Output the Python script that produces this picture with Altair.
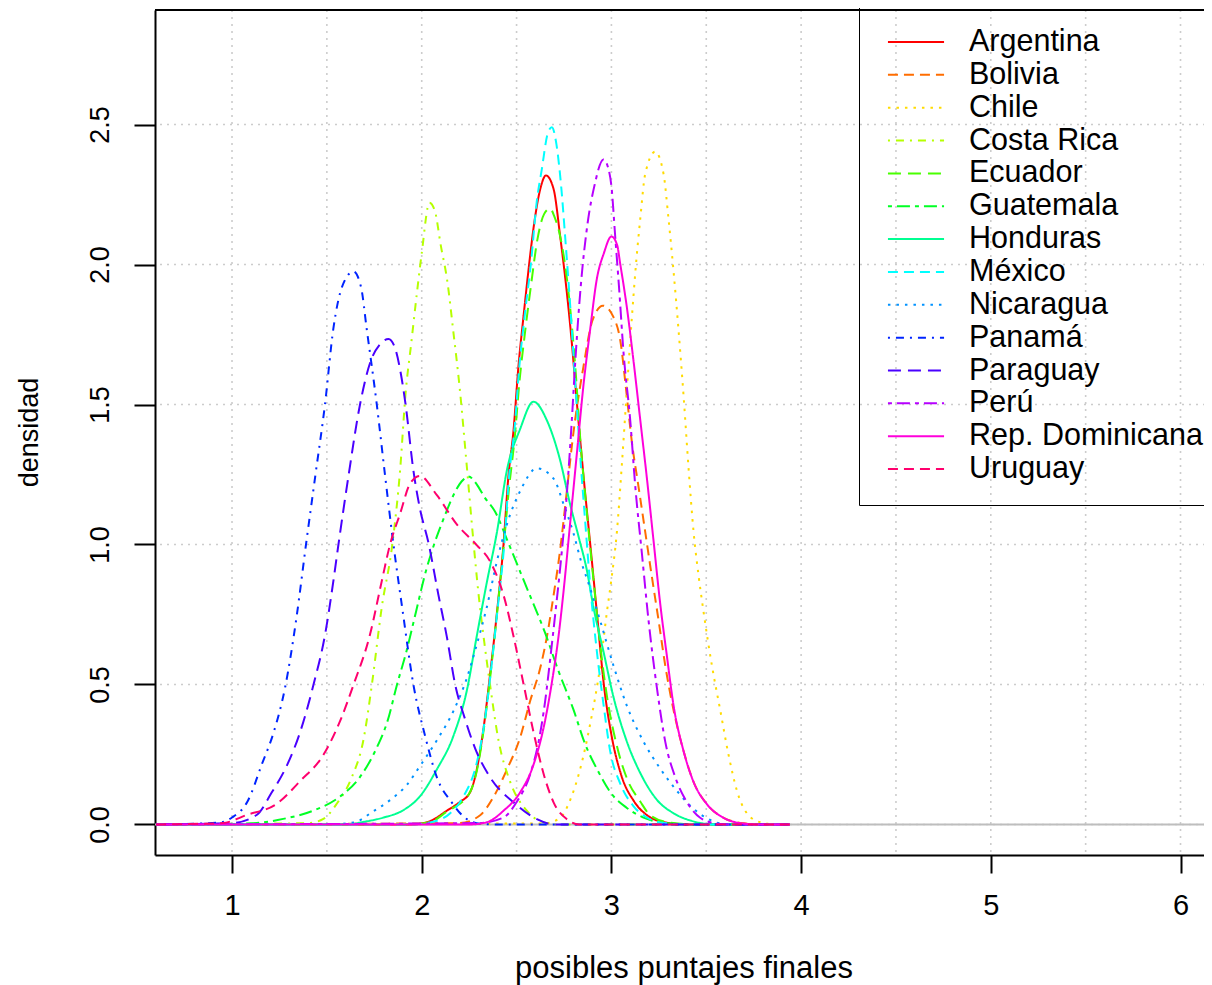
import altair as alt
import pandas as pd

countries = ["Argentina", "Bolivia", "Chile", "Costa Rica", "Ecuador", "Guatemala",
             "Honduras", "México", "Nicaragua", "Panamá", "Paraguay", "Perú",
             "Rep. Dominicana", "Uruguay"]
line_colors = ["#FF0000", "#FF6D00", "#FFDB00", "#B6FF00", "#49FF00", "#00FF24",
               "#00FF92", "#00FFFF", "#0092FF", "#0024FF", "#4900FF", "#B600FF",
               "#FF00DB", "#FF006D"]
line_dashes = [[1, 0], [10, 6], [2.5, 6], [2, 6, 8, 6], [13, 7], [4, 5, 13, 5],
               [1, 0], [10, 6], [2.5, 6], [2, 6, 8, 6], [13, 7], [4, 5, 13, 5],
               [1, 0], [10, 6]]

# density curves: (score, density)
argentina = [(0.6, 0), (1.95, 0), (2.044, 0.012), (2.132, 0.049), (2.2, 0.08), (2.255, 0.115),
             (2.29, 0.196), (2.326, 0.344), (2.361, 0.54), (2.396, 0.753), (2.431, 0.999),
             (2.457, 1.244), (2.484, 1.408), (2.51, 1.637), (2.537, 1.817), (2.563, 1.981),
             (2.589, 2.128), (2.624, 2.267), (2.655, 2.318), (2.695, 2.27), (2.73, 2.10),
             (2.765, 1.90), (2.79, 1.73), (2.82, 1.49), (2.855, 1.23), (2.89, 0.99),
             (2.925, 0.745), (2.96, 0.50), (3.0, 0.32), (3.05, 0.18), (3.12, 0.082),
             (3.19, 0.032), (3.28, 0.008), (3.4, 0), (3.94, 0)]
bolivia = [(0.6, 0), (2.2, 0.005), (2.308, 0.033), (2.378, 0.098), (2.449, 0.196), (2.519, 0.311),
           (2.572, 0.442), (2.624, 0.557), (2.66, 0.671), (2.695, 0.818), (2.73, 0.982),
           (2.76, 1.16), (2.80, 1.40), (2.853, 1.637), (2.90, 1.80), (2.955, 1.853),
           (3.011, 1.812), (3.046, 1.732), (3.082, 1.525), (3.108, 1.365), (3.143, 1.206),
           (3.178, 1.046), (3.213, 0.886), (3.249, 0.727), (3.284, 0.567), (3.328, 0.407),
           (3.38, 0.263), (3.433, 0.152), (3.504, 0.072), (3.591, 0.024), (3.7, 0.004),
           (3.8, 0), (3.94, 0)]
chile = [(0.6, 0), (2.65, 0.004), (2.73, 0.024), (2.783, 0.088), (2.836, 0.2), (2.888, 0.359),
         (2.941, 0.567), (2.976, 0.758), (3.002, 0.886), (3.029, 1.046), (3.055, 1.285),
         (3.082, 1.557), (3.108, 1.812), (3.126, 1.972), (3.152, 2.163), (3.178, 2.323),
         (3.231, 2.403), (3.275, 2.323), (3.301, 2.163), (3.328, 1.972), (3.354, 1.764),
         (3.381, 1.525), (3.407, 1.269), (3.433, 1.046), (3.46, 0.886), (3.486, 0.758),
         (3.53, 0.567), (3.574, 0.407), (3.618, 0.247), (3.662, 0.12), (3.714, 0.04),
         (3.785, 0.008), (3.87, 0), (3.94, 0)]
costa_rica = [(0.6, 0), (1.40, 0.005), (1.482, 0.02), (1.552, 0.074), (1.631, 0.168), (1.693, 0.303),
              (1.737, 0.498), (1.789, 0.774), (1.845, 1.0), (1.886, 1.265), (1.915, 1.54),
              (1.945, 1.72), (1.975, 1.90), (2.0, 2.04), (2.041, 2.221), (2.07, 2.19),
              (2.10, 2.07), (2.135, 1.94), (2.165, 1.77), (2.20, 1.56), (2.235, 1.30),
              (2.27, 1.03), (2.30, 0.82), (2.33, 0.65), (2.36, 0.50), (2.405, 0.30),
              (2.466, 0.153), (2.554, 0.049), (2.624, 0.012), (2.72, 0), (3.94, 0)]
ecuador = [(0.6, 0), (1.95, 0), (2.05, 0.01), (2.13, 0.045), (2.25, 0.11), (2.29, 0.19),
           (2.325, 0.33), (2.36, 0.52), (2.395, 0.74), (2.43, 0.98), (2.46, 1.2), (2.49, 1.38),
           (2.515, 1.58), (2.545, 1.76), (2.575, 1.92), (2.61, 2.09), (2.645, 2.18),
           (2.677, 2.20), (2.70, 2.17), (2.73, 2.10), (2.774, 1.90), (2.809, 1.64),
           (2.836, 1.375), (2.871, 1.11), (2.906, 0.87), (2.941, 0.64), (2.976, 0.46),
           (3.029, 0.28), (3.082, 0.164), (3.152, 0.082), (3.205, 0.033), (3.3, 0.008),
           (3.45, 0), (3.94, 0)]
guatemala = [(0.6, 0), (1.1, 0.004), (1.27, 0.02), (1.43, 0.05), (1.57, 0.10), (1.675, 0.17),
             (1.76, 0.27), (1.82, 0.37), (1.87, 0.50), (1.92, 0.62), (1.97, 0.76), (2.02, 0.90),
             (2.065, 1.0), (2.12, 1.10), (2.167, 1.176), (2.21, 1.225), (2.247, 1.243),
             (2.29, 1.215), (2.33, 1.17), (2.387, 1.117), (2.46, 1.0), (2.56, 0.835),
             (2.65, 0.685), (2.72, 0.55), (2.80, 0.41), (2.86, 0.29), (2.93, 0.19),
             (3.0, 0.11), (3.08, 0.06), (3.18, 0.022), (3.3, 0.004), (3.45, 0), (3.94, 0)]
honduras = [(0.6, 0), (1.6, 0), (1.70, 0.01), (1.80, 0.025), (1.90, 0.05), (1.99, 0.10),
            (2.08, 0.197), (2.167, 0.316), (2.238, 0.479), (2.29, 0.672), (2.343, 0.864),
            (2.396, 1.042), (2.449, 1.265), (2.519, 1.413), (2.589, 1.51), (2.66, 1.443),
            (2.73, 1.30), (2.78, 1.15), (2.83, 1.02), (2.87, 0.91), (2.906, 0.774),
            (2.959, 0.615), (3.011, 0.455), (3.082, 0.295), (3.152, 0.184), (3.24, 0.088),
            (3.328, 0.04), (3.433, 0.011), (3.55, 0), (3.94, 0)]
mexico = [(0.6, 0), (1.95, 0), (2.05, 0.008), (2.15, 0.04), (2.22, 0.10), (2.29, 0.22),
          (2.33, 0.36), (2.365, 0.55), (2.40, 0.77), (2.435, 1.0), (2.46, 1.24), (2.49, 1.42),
          (2.515, 1.64), (2.545, 1.83), (2.575, 2.0), (2.607, 2.228), (2.633, 2.34),
          (2.665, 2.47), (2.686, 2.49), (2.71, 2.43), (2.735, 2.28), (2.756, 2.10),
          (2.783, 1.85), (2.81, 1.57), (2.836, 1.31), (2.862, 1.08), (2.89, 0.84),
          (2.923, 0.62), (2.958, 0.43), (2.994, 0.26), (3.046, 0.147), (3.117, 0.065),
          (3.187, 0.025), (3.28, 0.005), (3.4, 0), (3.94, 0)]
nicaragua = [(0.6, 0), (1.55, 0.002), (1.64, 0.007), (1.745, 0.047), (1.833, 0.087), (1.921, 0.141),
             (1.992, 0.21), (2.08, 0.301), (2.167, 0.405), (2.238, 0.523), (2.29, 0.642),
             (2.343, 0.776), (2.396, 0.939), (2.449, 1.072), (2.519, 1.191), (2.607, 1.272),
             (2.695, 1.235), (2.75, 1.14), (2.80, 1.04), (2.84, 0.94), (2.88, 0.86),
             (2.941, 0.727), (3.011, 0.567), (3.082, 0.423), (3.17, 0.295), (3.257, 0.20),
             (3.345, 0.12), (3.433, 0.056), (3.521, 0.016), (3.62, 0), (3.94, 0)]
panama = [(0.6, 0), (0.937, 0.007), (1.0, 0.025), (1.08, 0.08), (1.16, 0.22), (1.22, 0.33),
          (1.28, 0.49), (1.34, 0.74), (1.39, 1.0), (1.44, 1.25), (1.49, 1.50), (1.534, 1.77),
          (1.58, 1.92), (1.64, 1.975), (1.68, 1.92), (1.71, 1.77), (1.763, 1.501),
          (1.807, 1.245), (1.851, 1.0), (1.90, 0.76), (1.956, 0.50), (2.018, 0.316),
          (2.08, 0.168), (2.158, 0.079), (2.238, 0.019), (2.31, 0.003), (2.4, 0), (3.94, 0)]
paraguay = [(0.6, 0), (1.0, 0.005), (1.13, 0.034), (1.209, 0.114), (1.288, 0.209), (1.359, 0.33),
            (1.429, 0.498), (1.491, 0.68), (1.534, 0.868), (1.561, 1.0), (1.614, 1.245),
            (1.675, 1.501), (1.728, 1.649), (1.78, 1.715), (1.825, 1.734), (1.86, 1.70),
            (1.89, 1.61), (1.915, 1.50), (1.956, 1.265), (1.99, 1.13), (2.036, 1.005),
            (2.088, 0.82), (2.132, 0.672), (2.176, 0.501), (2.229, 0.375), (2.282, 0.271),
            (2.361, 0.168), (2.484, 0.079), (2.607, 0.019), (2.70, 0), (3.94, 0)]
peru = [(0.6, 0), (2.3, 0.005), (2.431, 0.025), (2.502, 0.082), (2.572, 0.18), (2.616, 0.295),
        (2.651, 0.442), (2.677, 0.589), (2.704, 0.753), (2.73, 0.917), (2.765, 1.18),
        (2.79, 1.43), (2.812, 1.68), (2.838, 1.92), (2.875, 2.15), (2.91, 2.28),
        (2.958, 2.375), (2.985, 2.34), (3.0, 2.28), (3.02, 2.10), (3.04, 1.92),
        (3.064, 1.684), (3.099, 1.445), (3.126, 1.206), (3.161, 0.966), (3.196, 0.727),
        (3.24, 0.487), (3.284, 0.295), (3.337, 0.168), (3.398, 0.08), (3.468, 0.024),
        (3.56, 0.003), (3.65, 0), (3.94, 0)]
rep_dominicana = [(0.6, 0), (2.25, 0), (2.343, 0.008), (2.431, 0.049), (2.519, 0.115),
                  (2.589, 0.213), (2.642, 0.344), (2.686, 0.507), (2.721, 0.671), (2.748, 0.835),
                  (2.783, 1.08), (2.818, 1.326), (2.853, 1.571), (2.888, 1.768), (2.923, 1.948),
                  (2.96, 2.04), (3.0, 2.10), (3.03, 2.07), (3.046, 2.004), (3.082, 1.844),
                  (3.117, 1.653), (3.152, 1.445), (3.187, 1.237), (3.222, 1.014), (3.257, 0.79),
                  (3.293, 0.599), (3.328, 0.423), (3.38, 0.263), (3.433, 0.152), (3.504, 0.072),
                  (3.591, 0.024), (3.679, 0.005), (3.78, 0), (3.94, 0)]
uruguay = [(0.6, 0), (0.95, 0.005), (1.077, 0.034), (1.236, 0.074), (1.359, 0.155), (1.482, 0.249),
           (1.57, 0.37), (1.64, 0.498), (1.728, 0.68), (1.789, 0.868), (1.833, 1.0),
           (1.886, 1.11), (1.939, 1.218), (1.99, 1.245), (2.08, 1.176), (2.185, 1.072),
           (2.29, 0.998), (2.361, 0.939), (2.431, 0.82), (2.484, 0.672), (2.537, 0.501),
           (2.589, 0.331), (2.642, 0.182), (2.695, 0.079), (2.765, 0.019), (2.83, 0), (3.94, 0)]

curves = [argentina, bolivia, chile, costa_rica, ecuador, guatemala, honduras, mexico,
          nicaragua, panama, paraguay, peru, rep_dominicana, uruguay]

x_ticks = [1, 2, 3, 4, 5, 6]
y_ticks = [0.0, 0.5, 1.0, 1.5, 2.0, 2.5]
grid_x = [1.0, 1.5, 2.0, 2.5, 3.0, 3.5, 4.0, 4.5, 5.0, 5.5, 6.0]
grid_y = [0.0, 0.5, 1.0, 1.5, 2.0, 2.5]
zero_line = [0.0]
x_range = [0.594, 6.166]
y_range = [-0.109, 2.909]
top_frame = [2.909]

rows = []
for name, pts in zip(countries, curves):
    for i, (xv, yv) in enumerate(pts):
        rows.append({"pais": name, "x": xv, "y": yv, "i": i})
df = pd.DataFrame(rows)

FONT = "Liberation Sans"
xs = alt.Scale(domain=x_range, nice=False, zero=False)
ys = alt.Scale(domain=y_range, nice=False, zero=False)

x_axis = alt.Axis(
    values=x_ticks, format="d", grid=False, domain=True, domainColor="black", domainWidth=2,
    tickSize=18, tickWidth=2, tickColor="black", labelFontSize=29, labelColor="black",
    labelFont=FONT, labelBaseline="alphabetic", labelPadding=41, labelFlush=False,
    title="posibles puntajes finales", titleFontSize=31, titleFont=FONT,
    titleFontWeight="normal", titleColor="black", titleY=122, titleBaseline="alphabetic")
y_axis = alt.Axis(
    values=y_ticks, format=".1f", grid=False, domain=True, domainColor="black", domainWidth=2,
    tickSize=21, tickWidth=2, tickColor="black", labelFontSize=27, labelColor="black",
    labelFont=FONT, labelAngle=270, labelAlign="center", labelBaseline="alphabetic",
    labelPadding=26, labelFlush=False, title="densidad", titleFontSize=27, titleFont=FONT,
    titleFontWeight="normal", titleColor="black", titleAngle=270, titleX=-118,
    titleY=422, titleAlign="center", titleBaseline="alphabetic")

vgrid = alt.Chart(pd.DataFrame({"x": grid_x})).mark_rule(
    color="#CCCCCC", strokeWidth=1.6, strokeDash=[2, 5]
).encode(x=alt.X("x:Q", scale=xs, axis=x_axis))

hgrid = alt.Chart(pd.DataFrame({"y": grid_y})).mark_rule(
    color="#CCCCCC", strokeWidth=1.6, strokeDash=[2, 5]
).encode(y=alt.Y("y:Q", scale=ys, axis=y_axis))

zero = alt.Chart(pd.DataFrame({"y": zero_line})).mark_rule(
    color="#BEBEBE", strokeWidth=2
).encode(y=alt.Y("y:Q", scale=ys, axis=y_axis))

top = alt.Chart(pd.DataFrame({"y": top_frame})).mark_rule(
    color="black", strokeWidth=2
).encode(y=alt.Y("y:Q", scale=ys, axis=y_axis))

legend = alt.Legend(
    title=None, orient="none", legendX=704, legendY=-4, padding=20,
    strokeColor="black", symbolType="M-1.87,0L1.87,0", symbolSize=900,
    symbolStrokeWidth=2, symbolOffset=21, labelOffset=37, labelFontSize=30.5,
    labelFont=FONT, labelColor="black", labelLimit=600, rowPadding=0.85,
)

lines = alt.Chart(df).mark_line(strokeWidth=2, interpolate="monotone", clip=True).encode(
    x=alt.X("x:Q", scale=xs, axis=x_axis),
    y=alt.Y("y:Q", scale=ys, axis=y_axis),
    color=alt.Color("pais:N", scale=alt.Scale(domain=countries, range=line_colors), legend=legend),
    strokeDash=alt.StrokeDash("pais:N", scale=alt.Scale(domain=countries, range=line_dashes), legend=legend),
    order=alt.Order("i:Q"),
)

chart = alt.layer(vgrid, hgrid, zero, top, lines).properties(
    width=1057, height=845,
    autosize=alt.AutoSizeParams(type="none"),
    padding={"left": 147, "top": 2, "right": -8, "bottom": 130},
).configure(font=FONT).configure_view(strokeWidth=0)

chart.save("out.html", embed_options={"renderer": "svg", "actions": False})
